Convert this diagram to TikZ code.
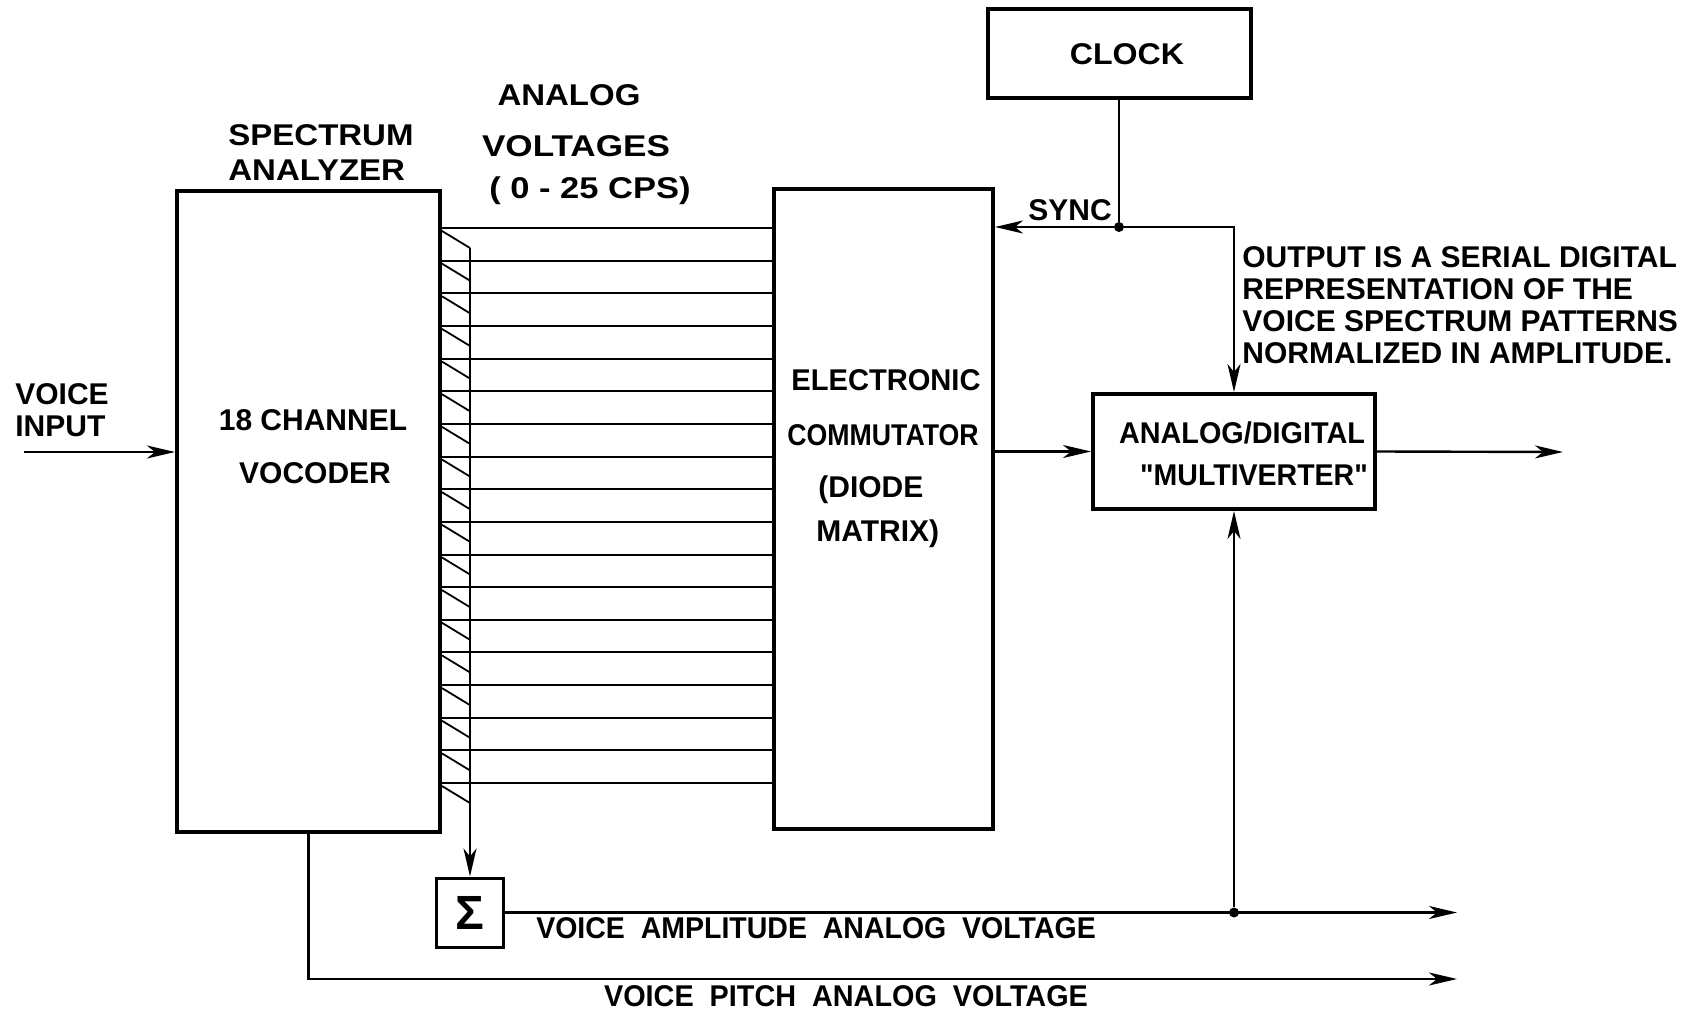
\documentclass[tikz,border=0pt]{standalone}
\usepackage{fontspec}
\usepackage{graphicx}
\setmainfont{Liberation Sans}
\usetikzlibrary{arrows.meta}

\tikzset{
    blockbox/.style={draw, line width=2pt, inner sep=0pt},
    wire/.style={line width=1.2pt},
    arr/.style={wire, -{Stealth[length=14pt,width=6.5pt,inset=4pt]}},
    lbl/.style={font=\fontsize{15}{16}\selectfont\bfseries, inner sep=0pt},
    jdot/.style={circle, fill, inner sep=0pt, minimum size=5pt},
}

\begin{document}
\begin{tikzpicture}[x=0.5pt,y=-0.5pt]
    \useasboundingbox (0,0) rectangle (1705,1011);
    % Bloques
    \node[blockbox, minimum width=131.5pt, minimum height=320.5pt] (voc) at (308.5,511.5) {};
    \node[blockbox, minimum width=109.5pt, minimum height=320pt] (comm) at (883.5,509) {};
    \node[blockbox, minimum width=131.5pt, minimum height=44.5pt] (clock) at (1119,53.5) {};
    \node[blockbox, minimum width=141pt, minimum height=57.5pt] (ad) at (1234,451.5) {};
    \node[blockbox, line width=1.5pt, minimum width=33.5pt, minimum height=34.5pt,
        font=\fontsize{24}{24}\selectfont\bfseries] (sum) at (470,912.5) {Σ};
    % Textos
    \node[lbl] (clocktxt) at (1127,54) {\scalebox{1.07}[1]{CLOCK}};
    \node[lbl, align=left, anchor=west, font=\fontsize{15}{17.5}\selectfont\bfseries]
        (spec) at (228,153) {\scalebox{1.1}[1]{SPECTRUM}\\\scalebox{1.1}[1]{ANALYZER}};
    \node[lbl] (analog) at (569,95) {\scalebox{1.1}[1]{ANALOG}};
    \node[lbl] (volt) at (576,146) {\scalebox{1.17}[1]{VOLTAGES}};
    \node[lbl] (cps) at (590,191) {\scalebox{1.15}[1]{(\ 0 - 25 CPS)}};
    \node[lbl, align=left, anchor=west] (vin) at (15,410) {VOICE\\INPUT};
    \node[lbl] (ch) at (313,420) {18 CHANNEL};
    \node[lbl] (vocod) at (315,473) {VOCODER};
    \node[lbl, anchor=west] (elec) at (791,380) {\scalebox{0.97}[1]{ELECTRONIC}};
    \node[lbl, anchor=west] (commut) at (787,435) {\scalebox{0.89}[1]{COMMUTATOR}};
    \node[lbl, anchor=west] (diode) at (818,490) {(DIODE};
    \node[lbl, anchor=west] (matrix) at (816,534) {MATRIX)};
    \node[lbl] (adtxt) at (1242,433) {\scalebox{0.96}[1]{ANALOG/DIGITAL}};
    \node[lbl] (multi) at (1254,475) {\scalebox{0.95}[1]{\textquotedbl MULTIVERTER\textquotedbl}};
    \node[lbl] (synctxt) at (1070,210) {SYNC};
    \node[lbl, align=left, anchor=west] (note) at (1242,305.5)
        {OUTPUT IS A SERIAL DIGITAL\\REPRESENTATION OF THE\\VOICE SPECTRUM PATTERNS\\NORMALIZED IN AMPLITUDE.};
    \node[lbl] (amptxt) at (816,928) {\scalebox{0.95}[1]{VOICE\ \ AMPLITUDE\ \ ANALOG\ \ VOLTAGE}};
    \node[lbl] (pitchtxt) at (846,996) {\scalebox{0.96}[1]{VOICE\ \ PITCH\ \ ANALOG\ \ VOLTAGE}};
    % Canales de salida del vocoder
    \coordinate (bustop) at (470,248);
    \foreach \i in {0,...,17} {
        \pgfmathsetmacro\yy{228+\i*32.65}
        \draw[line width=1pt] (voc.east |- 0,\yy) -- (comm.west |- 0,\yy);
        \draw[line width=0.9pt] (voc.east |- 0,\yy+3) -- (bustop |- 0,\yy+20);
    }
    \draw[arr] (bustop) -- (sum.north);
    % Conexiones
    \coordinate (vstart) at (24,452);
    \draw[arr] (vstart) -- (voc.west |- vstart);
    \coordinate (pitchend) at (1457,979);
    \draw[arr] (voc.south) |- (pitchend);
    \coordinate (ampend) at (1457,912.5);
    \draw[arr] (sum.east) -- (ampend);
    \node[jdot] (ampdot) at (ad.south |- ampend) {};
    \draw[arr] (ampdot) -- (ad.south);
    \node[jdot] (sync) at (clock.south |- 0,227) {};
    \draw[wire] (clock.south) -- (sync);
    \draw[arr] (sync) -- (comm.east |- sync);
    \draw[arr] (sync) -| (ad.north);
    \draw[arr] (comm.east |- ad.west) -- (ad.west);
    \coordinate (dout) at (1563,452);
    \draw[arr] (ad.east) -- (dout);
\end{tikzpicture}
\end{document}
